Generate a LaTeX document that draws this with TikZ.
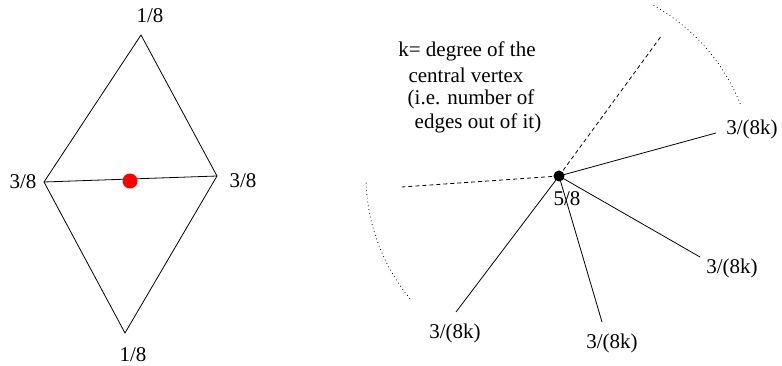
\documentclass[tikz,border=0pt]{standalone}
\usepackage{fontspec}
\setmainfont{Liberation Serif}
\begin{document}
\begin{tikzpicture}[x=1pt,y=-1pt,
  edge/.style={line width=0.8pt},
  dashedge/.style={line width=0.8pt,dash pattern=on 4pt off 3pt},
  arcline/.style={line width=0.8pt,dash pattern=on 0.8pt off 3pt},
  lbl/.style={font=\fontsize{21}{24}\selectfont,inner sep=0pt}]
\useasboundingbox (0,0) rectangle (782,366);
% left diamond
\coordinate (T) at (141,35);
\coordinate (L) at (44,182);
\coordinate (R) at (217,176);
\coordinate (B) at (125,333);
\draw[edge] (T) -- (L) -- (B) -- (R) -- cycle;
\draw[edge] (L) -- (R);
\node[circle,fill=red,minimum size=15pt,inner sep=0pt] (rd) at (130,181) {};
\node[lbl] (lt) at (150,16) {1/8};
\node[lbl] (ll) at (23,182) {3/8};
\node[lbl] (lr) at (243,181) {3/8};
\node[lbl] (lb) at (133,355) {1/8};
% right star
\node[circle,fill=black,minimum size=11pt,inner sep=0pt] (C) at (559,176) {};
\coordinate (d1) at (662,35);
\coordinate (d2) at (402,187);
\coordinate (e1) at (716,133);
\coordinate (e2) at (700,257);
\coordinate (e3) at (602,322);
\coordinate (e4) at (456,312);
\draw[dashedge] (C.center) -- (d1);
\draw[dashedge] (C.center) -- (d2);
\draw[edge] (C.center) -- (e1);
\draw[edge] (C.center) -- (e2);
\draw[edge] (C.center) -- (e3);
\draw[edge] (C.center) -- (e4);
% dotted arcs around the central vertex
\draw[arcline] (C.center) ++(61:195pt) arc[start angle=61,end angle=21,radius=195pt];
\draw[arcline] (C.center) ++(182:193pt) arc[start angle=182,end angle=220,radius=193pt];
\node[lbl] (c) at (567,199) {5/8};
\node[lbl] (k1) at (752,129) {3/(8k)};
\node[lbl] (k2) at (732,268) {3/(8k)};
\node[lbl] (k3) at (612,343) {3/(8k)};
\node[lbl] (k4) at (455,333) {3/(8k)};
\node[lbl] (t1) at (467,51) {k= degree of the};
\node[lbl] (t2) at (466,75) {central vertex};
\node[lbl] (t3) at (471,99) {(i.e. number of};
\node[lbl] (t4) at (478,123) {edges out of it)};
\end{tikzpicture}
\end{document}
